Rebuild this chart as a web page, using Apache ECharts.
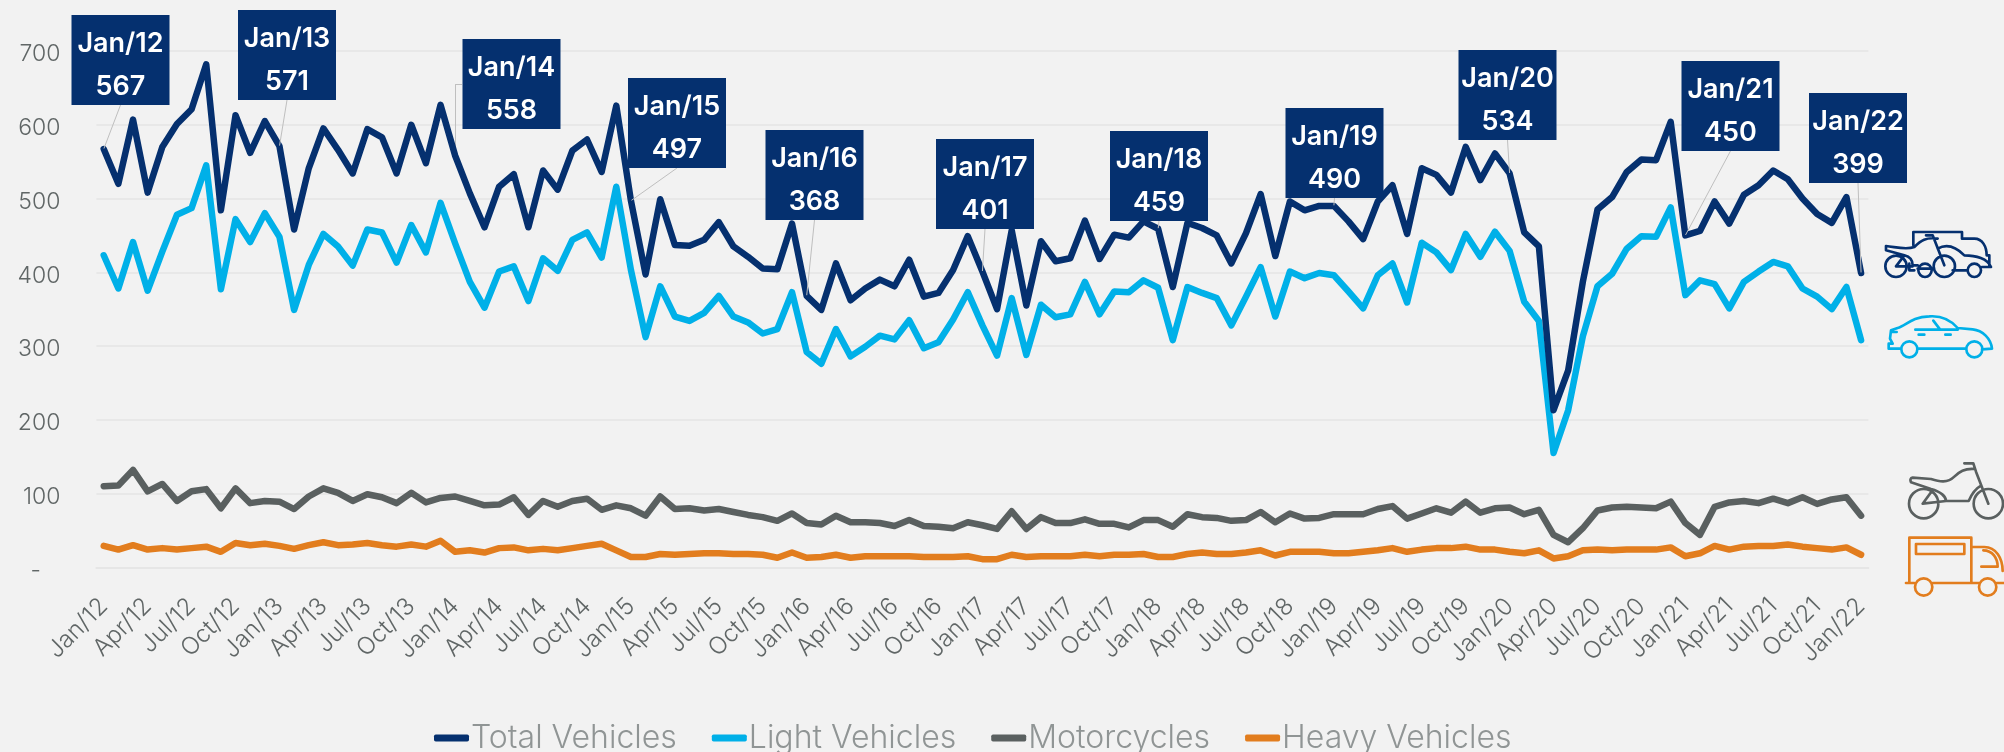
<!DOCTYPE html>
<html>
<head>
<meta charset="utf-8">
<title>Vehicles</title>
<script src="https://cdn.jsdelivr.net/npm/echarts@6/dist/echarts.min.js"></script>
<style>
html, body { margin: 0; padding: 0; background: #f2f2f2; }
#main { width: 2004px; height: 752px; }
</style>
</head>
<body>
<div id="main"></div>
<script>
const months = ['Jan', 'Feb', 'Mar', 'Apr', 'May', 'Jun', 'Jul', 'Aug', 'Sep', 'Oct', 'Nov', 'Dec']
const categories = []
for (let y = 12; y <= 22; y++) {
  for (let m = 0; m < 12; m++) {
    if (y === 22 && m > 0) break
    categories.push(months[m] + '/' + y)
  }
}

const totalVehicles = [
  567, 520, 607, 508, 570, 601, 621, 682, 484, 613, 562, 605,
  571, 458, 541, 595, 566, 534, 594, 583, 534, 600, 548, 627,
  558, 507, 461, 516, 533, 461, 538, 512, 565, 580, 536, 626,
  497, 397, 499, 437, 436, 444, 468, 435, 421, 405, 404, 466,
  368, 349, 412, 362, 378, 390, 381, 417, 367, 372, 403, 449,
  401, 350, 457, 355, 442, 415, 419, 470, 418, 451, 447, 469,
  459, 380, 467, 460, 450, 412, 453, 506, 422, 496, 484, 490,
  490, 469, 445, 496, 518, 452, 541, 532, 508, 570, 525, 561,
  534, 454, 435, 213, 267, 387, 485, 502, 536, 553, 552, 604,
  450, 456, 496, 466, 505, 518, 538, 526, 500, 479, 467, 502,
  399
]
const lightVehicles = [
  423, 378, 441, 375, 428, 478, 487, 545, 377, 472, 441, 480,
  448, 349, 410, 452, 435, 409, 458, 454, 413, 464, 427, 494,
  439, 387, 352, 401, 408, 361, 419, 402, 444, 454, 420, 516,
  403, 312, 381, 340, 334, 345, 368, 340, 332, 317, 323, 373,
  292, 276, 323, 286, 299, 314, 309, 335, 297, 305, 336, 373,
  328, 287, 365, 288, 356, 339, 343, 387, 343, 374, 373, 389,
  379, 308, 380, 372, 365, 328, 367, 407, 340, 401, 392, 399,
  396, 374, 351, 396, 412, 359, 440, 427, 403, 452, 421, 455,
  429, 360, 334, 155, 213, 313, 381, 398, 432, 449, 448, 488,
  369, 389, 384, 351, 387, 401, 414, 408, 378, 367, 350, 380,
  308
]
const motorcycles = [
  110, 111, 132, 103, 113, 90, 103, 106, 80, 107, 87, 90,
  89, 79, 96, 107, 101, 90, 99, 95, 87, 101, 88, 94,
  96, 90, 84, 85, 95, 71, 90, 82, 90, 93, 78, 84,
  80, 70, 96, 79, 80, 77, 79, 75, 71, 68, 63, 73,
  60, 58, 70, 61, 61, 60, 56, 64, 56, 55, 53, 61,
  57, 52, 76, 52, 68, 60, 60, 65, 59, 59, 54, 64,
  64, 55, 72, 68, 67, 63, 64, 75, 61, 73, 66, 67,
  72, 72, 72, 79, 83, 66, 73, 80, 74, 89, 74, 80,
  81, 72, 78, 44, 34, 53, 77, 81, 82, 81, 80, 89,
  60, 44, 82, 88, 90, 87, 93, 87, 95, 86, 92, 95,
  70
]
const heavyVehicles = [
  29, 24, 30, 24, 26, 24, 26, 28, 21, 33, 30, 32,
  29, 25, 30, 34, 30, 31, 33, 30, 28, 31, 28, 36,
  21, 23, 20, 26, 27, 23, 25, 23, 26, 29, 32, 23,
  14, 14, 18, 17, 18, 19, 19, 18, 18, 17, 13, 20,
  13, 14, 17, 13, 15, 15, 15, 15, 14, 14, 14, 15,
  11, 11, 17, 14, 15, 15, 15, 17, 15, 17, 17, 18,
  14, 14, 18, 20, 18, 18, 20, 23, 16, 21, 21, 21,
  19, 19, 21, 23, 26, 21, 24, 26, 26, 28, 24, 24,
  21, 19, 23, 12, 15, 23, 24, 23, 24, 24, 24, 27,
  15, 19, 29, 24, 28, 29, 29, 31, 28, 26, 24, 27,
  17
]
const yTicks = [0, 100, 200, 300, 400, 500, 600, 700]

// callouts: index of the month, centre x and top y of its box
const calloutPos = {
  0: [120.5, 15],
  12: [287, 10],
  24: [511.5, 39],
  36: [677, 78],
  48: [814.5, 130],
  60: [985, 139],
  72: [1159, 131],
  84: [1334.5, 108],
  96: [1507.5, 50],
  108: [1730.5, 61],
  120: [1858, 93]
}

const NAVY = '#05306f'
const SKY = '#00b0e8'
const GREY = '#5a6060'
const ORANGE = '#e27d1e'
const LEADER = '#bfbfbf'
const FONT = 'Inter'

function ring (cx, cy, r) {
  return 'M' + (cx - r) + ',' + cy + 'a' + r + ',' + r + ' 0 1,0 ' + (2 * r) + ',0a' + r + ',' + r + ' 0 1,0 ' + (-2 * r) + ',0'
}

// right hand vehicle pictures, drawn in 3x units and scaled down
function icon (type, x, y, color) {
  return {
    type,
    x,
    y,
    scaleX: 1 / 3,
    scaleY: 1 / 3,
    silent: true,
    style: { fill: 'none', stroke: color, lineWidth: 8, lineCap: 'round', lineJoin: 'round' }
  }
}

const allIcon = 'M112,70V30H258V50H295C320,50 332,75 332,100H340V135' +
  'M30,72C60,75 90,85 115,75C135,55 150,45 185,50M30,72L30,85L85,100C105,105 110,120 110,130H125' +
  'M150,40H170L205,130M60,133L85,100M60,133H110' +
  'M185,80C220,60 250,85 265,100C300,100 335,110 345,135H318M272,145H230M125,140H170M115,145H100V125' +
  ring(60, 133, 32) + ring(205, 133, 32) + ring(147, 145, 20) + ring(295, 145, 20)
const carIcon = 'M75,380H38V365H50L42,350L45,325L65,318C90,312 105,285 160,283C200,280 225,295 245,318L290,322C320,325 345,350 348,380L318,382M125,380H270' +
  'M118,323H245M172,296L192,322M128,338H145M208,338H224M45,330H62' +
  ring(100, 382, 24) + ring(295, 382, 24)
const motoIcon = 'M205,25H232L240,50L277,146M235,42C205,40 190,50 175,65C155,85 130,80 105,72L50,68Q40,70 45,82L105,102C135,110 150,125 150,138L80,146L110,105' +
  'M150,138H218C228,115 240,100 255,92' +
  ring(83, 146, 44) + ring(277, 146, 44)
const truckIcon = 'M30,384H55M110,384H248M302,384H330M40,380V248H226V380M60,267H205V297H60ZM226,276H265C300,276 320,310 320,348M262,286C290,286 305,310 305,335H256' +
  ring(83, 396, 26) + ring(275, 396, 26)

echarts.graphic.registerShape('allIcon', echarts.graphic.extendPath(allIcon, {}))
echarts.graphic.registerShape('carIcon', echarts.graphic.extendPath(carIcon, {}))
echarts.graphic.registerShape('motoIcon', echarts.graphic.extendPath(motoIcon, {}))
echarts.graphic.registerShape('truckIcon', echarts.graphic.extendPath(truckIcon, {}))

function lineSeries (name, values, color) {
  return {
    name,
    type: 'line',
    data: values,
    symbol: 'none',
    showSymbol: false,
    lineStyle: { color, width: 6.5, cap: 'round', join: 'round' },
    itemStyle: { color }
  }
}

// the navy series carries the callout boxes as labels
const totalData = totalVehicles.map((v, i) => {
  if (!calloutPos[i]) return v
  return {
    value: v,
    symbol: 'circle',
    symbolSize: 1,
    labelLine: { show: i !== 24 },
    label: {
      show: true,
      formatter: categories[i] + '\n' + v,
      color: '#fff',
      fontFamily: FONT,
      fontSize: 27,
      fontWeight: 600,
      lineHeight: 43,
      backgroundColor: NAVY,
      padding: [7.5, 0, 0, 0],
      width: 98,
      height: 82.5,
      align: 'center',
      verticalAlign: 'top'
    }
  }
})

const chart = echarts.init(document.getElementById('main'))
chart.setOption({
  animation: false,
  backgroundColor: '#f2f2f2',
  graphic: [
    icon('allIcon', 1876, 222, NAVY),
    icon('carIcon', 1876, 222, SKY),
    icon('motoIcon', 1896, 455, GREY),
    icon('truckIcon', 1896, 455, ORANGE)
  ],
  legend: {
    left: 429,
    top: 717,
    icon: 'roundRect',
    itemWidth: 35,
    itemHeight: 7,
    itemGap: 35,
    textStyle: { color: '#909595', fontFamily: FONT, fontSize: 32, fontWeight: 300, padding: [0, 0, 0, -3] },
    data: ['Total Vehicles', 'Light Vehicles', 'Motorcycles', 'Heavy Vehicles']
  },
  grid: { left: 96.4, right: 135.6, top: 51, bottom: 184.7 },
  xAxis: {
    type: 'category',
    data: categories,
    axisLine: { lineStyle: { color: '#e6e6e6', width: 2 } },
    axisTick: { interval: 2, length: 10, lineStyle: { color: '#e6e6e6', width: 2 } },
    axisLabel: {
      interval: 2,
      rotate: 45,
      margin: 35,
      padding: [17, 0, 0, 0],
      color: '#606666',
      fontFamily: FONT,
      fontSize: 24,
      fontWeight: 300
    }
  },
  yAxis: {
    type: 'value',
    min: yTicks[0],
    max: yTicks[yTicks.length - 1],
    interval: 100,
    axisLine: { show: false },
    axisTick: { show: false },
    splitLine: { lineStyle: { color: '#e8e8e8', width: 2 } },
    axisLabel: {
      margin: 36,
      verticalAlign: 'top',
      lineHeight: 7,
      color: '#606666',
      fontFamily: FONT,
      fontSize: 23,
      fontWeight: 300,
      formatter: v => (v === 0 ? '-   ' : v)
    }
  },
  series: [
    lineSeries('Heavy Vehicles', heavyVehicles, ORANGE),
    lineSeries('Motorcycles', motorcycles, GREY),
    lineSeries('Light Vehicles', lightVehicles, SKY),
    Object.assign(lineSeries('Total Vehicles', totalData, NAVY), {
      symbol: 'none',
      showSymbol: true,
      showAllSymbol: true,
      z: 5,
      labelLine: { show: true, length2: 0, lineStyle: { color: LEADER, width: 1 } },
      labelLayout (params) {
        const p = calloutPos[params.dataIndex]
        if (!p) return {}
        return { x: p[0], y: p[1], align: 'center', verticalAlign: 'top' }
      },
      // elbow leader of the Jan/14 box
      markLine: {
        silent: true,
        symbol: 'none',
        label: { show: false },
        lineStyle: { color: LEADER, width: 1, type: 'solid' },
        data: [
          [{ coord: [categories[24], totalVehicles[24]] }, { coord: [categories[24], 655] }],
          [{ coord: [categories[24], 655] }, { x: 462, y: 84 }]
        ]
      }
    })
  ]
})
</script>
</body>
</html>
